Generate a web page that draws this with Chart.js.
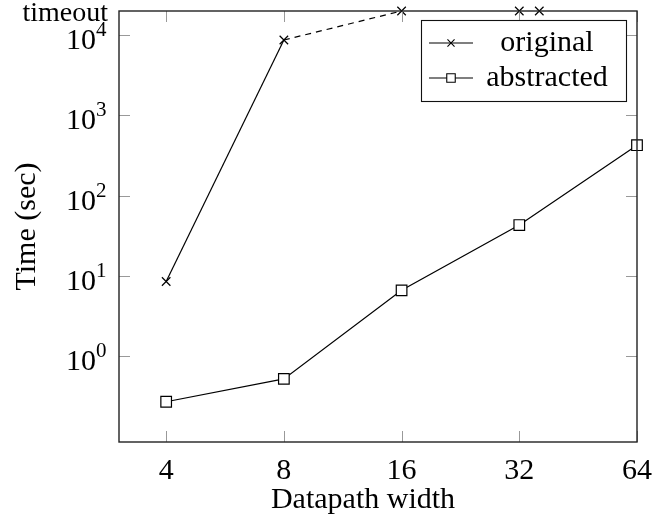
<!DOCTYPE html>
<html lang="en">
<head>
    <meta charset="UTF-8">
    <title>Datapath width vs time</title>
    <script src="https://cdn.jsdelivr.net/npm/chart.js"></script>
</head>
<style>
    html, body { margin: 0; padding: 0; background: #fff; }
    #wrap { width: 652px; height: 523px; }
</style>
<body>
    <div id="wrap"><canvas id="timeChart" width="652" height="523"></canvas></div>

    <script>
        // data
        const TIMEOUT = 20000;
        const widthTicks = [4, 8, 16, 32, 64];
        const origWidths = [4, 8, 16, 32, 36];
        const origTimes = [8.5, 8700, TIMEOUT, TIMEOUT, TIMEOUT];
        const absWidths = [4, 8, 16, 32, 64];
        const absTimes = [0.27, 0.52, 6.6, 43, 425];
        const timeTicks = [1, 10, 100, 1000, 10000, TIMEOUT];

        const FONT = "'Liberation Serif', 'Times New Roman', serif";
        const FS = 30;

        const frameAndLegend = {
            id: 'frameAndLegend',
            afterDatasetsDraw(chart) {
                const ctx = chart.ctx;
                const a = chart.chartArea;
                const xs = chart.scales.x, ys = chart.scales.y;
                ctx.save();
                // inward tick marks on all four sides
                ctx.strokeStyle = '#999';
                ctx.lineWidth = 1;
                ctx.beginPath();
                widthTicks.forEach(v => {
                    const px = Math.round(xs.getPixelForValue(v)) + 0.5;
                    ctx.moveTo(px, a.bottom); ctx.lineTo(px, a.bottom - 11);
                    ctx.moveTo(px, a.top); ctx.lineTo(px, a.top + 11);
                });
                timeTicks.filter(v => v !== TIMEOUT).forEach(v => {
                    const py = Math.round(ys.getPixelForValue(v)) + 0.5;
                    ctx.moveTo(a.left, py); ctx.lineTo(a.left + 11, py);
                    ctx.moveTo(a.right, py); ctx.lineTo(a.right - 11, py);
                });
                ctx.stroke();
                // frame
                ctx.strokeStyle = '#222';
                ctx.lineWidth = 1.4;
                ctx.strokeRect(a.left, a.top, a.right - a.left, a.bottom - a.top);

                // y tick labels: 10 with a raised exponent, and "timeout" at the top
                ctx.fillStyle = '#000';
                ctx.textBaseline = 'alphabetic';
                timeTicks.forEach(v => {
                    const py = ys.getPixelForValue(v);
                    if (v === TIMEOUT) {
                        ctx.font = '28px ' + FONT;
                        ctx.textAlign = 'right';
                        ctx.fillText('timeout', 108, py + 10);
                    } else {
                        ctx.font = FS + 'px ' + FONT;
                        ctx.textAlign = 'right';
                        ctx.fillText('10', 96, py + 14);
                        ctx.font = '21px ' + FONT;
                        ctx.textAlign = 'left';
                        ctx.fillText(String(Math.round(Math.log10(v))), 96, py + 1);
                    }
                });

                // x axis title
                ctx.font = FS + 'px ' + FONT;
                ctx.textAlign = 'center';
                ctx.textBaseline = 'middle';
                ctx.fillText('Datapath width', 363, 500);

                // legend box
                const bx = 421, by = 20, bw = 205, bh = 81;
                ctx.fillStyle = '#fff';
                ctx.fillRect(bx, by, bw, bh);
                ctx.strokeStyle = '#111';
                ctx.lineWidth = 1.1;
                ctx.strokeRect(bx + 0.5, by + 0.5, bw, bh);
                const rows = [
                    { ds: chart.data.datasets[0], y: 43 },
                    { ds: chart.data.datasets[1], y: 78 }
                ];
                rows.forEach(r => {
                    ctx.strokeStyle = '#000';
                    ctx.lineWidth = 1.1;
                    ctx.beginPath();
                    ctx.moveTo(429, r.y); ctx.lineTo(473, r.y);
                    ctx.stroke();
                    ctx.fillStyle = '#fff';
                    Chart.helpers.drawPoint(ctx, {
                        pointStyle: r.ds.pointStyle,
                        radius: r.ds.pointStyle === 'rect' ? 6 : 5,
                        borderWidth: 1.1
                    }, 451, r.y);
                    ctx.fillStyle = '#000';
                    ctx.font = FS + 'px ' + FONT;
                    ctx.textAlign = 'center';
                    ctx.textBaseline = 'middle';
                    ctx.fillText(r.ds.label, 547, r.y);
                });
                ctx.restore();
            }
        };

        const ctx = document.getElementById('timeChart').getContext('2d');
        new Chart(ctx, {
            type: 'line',
            data: {
                datasets: [{
                    label: 'original',
                    data: origWidths.map((w, i) => ({ x: w, y: origTimes[i] })),
                    borderColor: '#000',
                    backgroundColor: '#fff',
                    borderWidth: 1.2,
                    pointStyle: 'crossRot',
                    pointRadius: 6,
                    pointBorderWidth: 1.2,
                    pointBorderColor: '#000',
                    clip: false,
                    segment: {
                        borderDash: c => c.p0DataIndex === 1 ? [6, 5] : undefined,
                        borderColor: c => c.p0DataIndex >= 2 ? 'rgba(0,0,0,0)' : undefined
                    }
                }, {
                    label: 'abstracted',
                    data: absWidths.map((w, i) => ({ x: w, y: absTimes[i] })),
                    borderColor: '#000',
                    backgroundColor: '#fff',
                    borderWidth: 1.2,
                    pointStyle: 'rect',
                    pointRadius: 7.5,
                    pointBorderWidth: 1.2,
                    pointBorderColor: '#000',
                    pointBackgroundColor: '#fff',
                    clip: false
                }]
            },
            options: {
                responsive: false,
                animation: false,
                layout: { padding: { top: 11, right: 0, left: 0, bottom: 0 } },
                plugins: {
                    legend: { display: false },
                    tooltip: { enabled: false }
                },
                scales: {
                    x: {
                        type: 'logarithmic',
                        min: 3.03,
                        max: 64,
                        afterBuildTicks: s => { s.ticks = widthTicks.map(v => ({ value: v })); },
                        afterFit: s => { s.height = 81; s.paddingRight = 15; s.paddingLeft = 0; },
                        grid: { display: false },
                        border: { display: false },
                        ticks: {
                            color: '#000',
                            padding: 3,
                            maxRotation: 0,
                            autoSkip: false,
                            font: { family: FONT, size: FS },
                            callback: v => String(v)
                        }
                    },
                    y: {
                        type: 'logarithmic',
                        min: 0.085,
                        max: TIMEOUT,
                        afterBuildTicks: s => { s.ticks = timeTicks.map(v => ({ value: v })); },
                        afterFit: s => { s.width = 119; },
                        grid: { display: false },
                        border: { display: false },
                        ticks: {
                            display: false
                        },
                        title: {
                            display: true,
                            text: 'Time (sec)',
                            color: '#000',
                            padding: { top: 9, bottom: 0 },
                            font: { family: FONT, size: FS }
                        }
                    }
                }
            },
            plugins: [frameAndLegend]
        });
    </script>
</body>
</html>
